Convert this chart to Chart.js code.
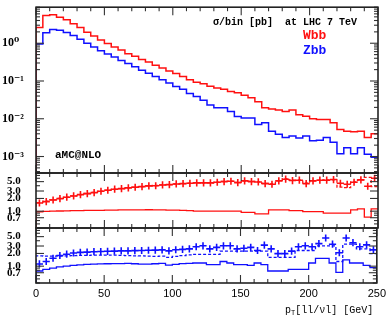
<!DOCTYPE html>
<html><head><meta charset="utf-8">
<script src="https://cdn.jsdelivr.net/npm/chart.js@4/dist/chart.umd.min.js"></script>
<style>
html,body{margin:0;padding:0;background:#fff;}
#wrap{position:relative;width:390px;height:319px;background:#fff;overflow:hidden;}
#wrap canvas{position:absolute;left:0;top:0;}
</style></head><body>
<div id="wrap">
<canvas id="c1" width="390" height="319"></canvas>
<canvas id="c2" width="390" height="319"></canvas>
<canvas id="c3" width="390" height="319"></canvas>
</div>
<script>
// ---- data ----
const binEdges = [0,5,10,15,20,25,30,35,40,45,50,55,60,65,70,75,80,85,90,95,100,105,110,115,120,125,130,135,140,145,150,155,160,165,170,175,180,185,190,195,200,205,210,215,220,225,230,235,240,245,250];
const wbbXsec = [2.6,5.4,5.7,4.9,4.2,3.3,2.6,1.96,1.55,1.22,0.98,0.80,0.66,0.53,0.45,0.37,0.32,0.26,0.22,0.185,0.158,0.132,0.108,0.092,0.084,0.073,0.065,0.060,0.053,0.049,0.042,0.036,0.028,0.0196,0.018,0.0171,0.0155,0.017,0.0128,0.0116,0.0100,0.0095,0.0095,0.0078,0.0052,0.0047,0.0045,0.0047,0.0032,0.0040];
const zbbXsec = [0.95,1.89,2.3,2.2,1.92,1.61,1.27,1.0,0.79,0.63,0.52,0.43,0.35,0.29,0.24,0.193,0.161,0.132,0.108,0.088,0.072,0.060,0.047,0.039,0.031,0.023,0.0197,0.0197,0.0155,0.0115,0.0105,0.0105,0.0070,0.0078,0.0047,0.0039,0.0032,0.0035,0.0031,0.0035,0.0026,0.0027,0.0032,0.0024,0.00118,0.0017,0.00118,0.0017,0.00115,0.00096];
const wbbRatioSolid = [0.97,0.99,1.0,1.01,1.02,1.03,1.03,1.04,1.05,1.05,1.06,1.06,1.07,1.07,1.07,1.07,1.08,1.07,1.07,1.06,1.06,1.05,1.03,1.0,1.0,1.0,1.0,1.0,1.0,1.0,0.94,0.94,0.86,0.86,1.07,1.07,1.07,1.03,1.03,0.98,0.98,0.98,0.9,0.9,0.9,0.9,1.07,1.13,0.72,1.13];
const wbbRatioDashed = [1.6,1.72,1.86,2.0,2.15,2.3,2.47,2.62,2.77,2.97,3.14,3.3,3.42,3.56,3.7,3.82,3.95,4.05,4.18,4.27,4.4,4.5,4.6,4.68,4.7,4.7,4.85,5.05,5.1,4.8,5.2,5.05,4.95,4.55,4.4,5.3,5.9,5.4,5.4,4.6,5.2,5.4,5.5,5.5,3.7,3.6,4.9,5.5,6.3,3.8];
const wbbRatioCross = [1.56,1.68,1.84,1.98,2.14,2.29,2.46,2.6,2.75,2.96,3.13,3.31,3.41,3.55,3.68,3.8,3.96,4.0,4.17,4.25,4.41,4.49,4.57,4.66,4.66,4.66,4.83,5.0,5.1,4.74,5.2,5.0,4.92,4.49,4.33,5.2,5.7,5.3,5.4,4.49,5.2,5.4,5.4,5.6,4.57,4.33,4.83,5.5,3.89,6.0];
const zbbRatioSolid = [0.77,0.84,0.9,0.96,1.0,1.04,1.07,1.1,1.12,1.13,1.14,1.15,1.15,1.16,1.14,1.12,1.12,1.14,1.16,1.06,1.1,1.15,1.17,1.19,1.19,1.09,1.09,1.29,1.19,1.09,1.09,1.04,1.19,1.09,0.77,0.77,0.77,0.84,0.84,0.84,1.19,1.53,1.53,1.19,0.71,1.41,1.19,1.19,1.04,0.92];
const zbbRatioDashed = [1.75,1.72,1.72,1.74,1.76,1.78,1.8,1.8,1.82,1.82,1.83,1.82,1.8,1.78,1.76,1.75,1.72,1.7,1.72,1.62,1.7,1.78,1.85,1.91,1.91,1.91,1.91,2.27,2.27,2.27,2.27,2.27,2.27,2.27,1.61,1.61,1.61,1.61,2.35,2.35,2.35,3.03,3.03,3.03,1.29,3.31,3.31,2.56,2.56,1.98];
const zbbRatioCross = [1.13,1.29,1.54,1.79,1.92,2.05,2.12,2.15,2.2,2.22,2.25,2.27,2.3,2.3,2.33,2.35,2.38,2.4,2.43,2.3,2.45,2.5,2.56,2.88,3.03,2.56,2.78,3.03,3.03,2.56,2.65,2.78,2.35,3.14,2.56,1.98,1.98,2.27,2.88,3.03,2.88,3.42,4.64,3.31,2.08,4.64,3.59,2.88,3.19,2.43];
const mainTickValues = [1,0.1,0.01,0.001];
const mainTickLabels = ['10\u2070','10\u207B\u00B9','10\u207B\u00B2','10\u207B\u00B3'];
const ratioTickValues = [5,3,2,1,0.7];
const ratioTickLabels = ['5.0','3.0','2.0','1.0','0.7'];
const xTickValues = [0,50,100,150,200,250];
const seriesNames = ['Wbb','Zbb'];

// ---- helpers ----
const RED = '#ff1010', BLUE = '#1010ff';
function histPoints(vals){
  const pts = [{x: binEdges[0], y: 1e-9}];
  vals.forEach((v,i)=>pts.push({x: binEdges[i], y: v}));
  pts.push({x: binEdges[vals.length], y: vals[vals.length-1]});
  return pts;
}
function centerPoints(vals){
  return vals.map((v,i)=>({x:(binEdges[i]+binEdges[i+1])/2, y:v}));
}
function histDS(vals,color,dash,w){
  return {type:'line', data:histPoints(vals), stepped:true, borderColor:color, borderWidth:w||1.3,
    borderDash:dash||[], pointRadius:0, fill:false, tension:0};
}
function crossDS(vals,color){
  return {type:'line', data:centerPoints(vals), showLine:false, pointStyle:'cross', pointRadius:3.6,
    pointBorderColor:color, pointBorderWidth:1.6, borderColor:color};
}
function framePlugin(majorVals){
  return {id:'frame', afterDatasetsDraw(chart){
    const {ctx, chartArea:a, scales:{x:xs, y:ys}} = chart;
    ctx.save();
    ctx.strokeStyle = '#333'; ctx.lineWidth = 1.1;
    const ln=(x1,y1,x2,y2)=>{ctx.beginPath();ctx.moveTo(x1,y1);ctx.lineTo(x2,y2);ctx.stroke();};
    for (let v = xs.min; v <= xs.max; v += 10){
      const px = xs.getPixelForValue(v); const L = (v % 50 === 0) ? 8 : 4;
      ln(px,a.top,px,a.top+L); ln(px,a.bottom,px,a.bottom-L);
    }
    const e0 = Math.floor(Math.log10(ys.min)), e1 = Math.ceil(Math.log10(ys.max));
    for (let e = e0; e <= e1; e++){
      for (let m = 1; m <= 9; m++){
        const v = m*Math.pow(10,e);
        if (v < ys.min*0.999 || v > ys.max*1.001) continue;
        const major = majorVals.some(t=>Math.abs(t-v)/v < 1e-6);
        const L = major ? 8 : 4;
        const py = ys.getPixelForValue(v);
        ln(a.left,py,a.left+L,py); ln(a.right,py,a.right-L,py);
      }
    }
    ctx.lineWidth = 1.6; ctx.strokeStyle = '#222';
    ctx.strokeRect(a.left, a.top, a.right-a.left, a.bottom-a.top);
    ctx.restore();
  }};
}
const textPlugin1 = {id:'txt1', afterDraw(chart){
  const ctx = chart.ctx; ctx.save(); ctx.textBaseline='middle';
  ctx.fillStyle='#000'; ctx.font='bold 10px "Liberation Mono", monospace';
  ctx.fillText('\u03C3/bin [pb]  at LHC 7 TeV', 213, 22);
  ctx.font='bold 13px "Liberation Mono", monospace';
  ctx.fillStyle=RED; ctx.fillText(seriesNames[0], 303, 36);
  ctx.fillStyle=BLUE; ctx.fillText(seriesNames[1], 303, 51);
  ctx.fillStyle='#000'; ctx.font='bold 11px "Liberation Mono", monospace';
  ctx.fillText('aMC@NLO', 55, 155);
  ctx.restore();
}};
const textPlugin3 = {id:'txt3', afterDraw(chart){
  const ctx = chart.ctx; ctx.save(); ctx.textBaseline='alphabetic'; ctx.fillStyle='#000';
  let x = 285; const y = 313;
  ctx.font='10px "Liberation Mono", monospace';
  ctx.fillText('p', x, y); x += ctx.measureText('p').width;
  ctx.font='7px "Liberation Mono", monospace';
  ctx.fillText('T', x, y+2); x += ctx.measureText('T').width;
  ctx.font='10px "Liberation Mono", monospace';
  ctx.fillText('[ll/\u03BDl] [GeV]', x, y);
  ctx.restore();
}};

function makeChart(id, datasets, yOpts, pad, yWidth, showX, plugins, majorVals){
  const yScale = Object.assign({
    type:'logarithmic', position:'left',
    grid:{display:false, drawTicks:false}, border:{display:false},
    afterFit(s){ s.width = yWidth; }
  }, yOpts);
  const xScale = {type:'linear', min:0, max:250, display:showX,
     grid:{display:false, drawTicks:false}, border:{display:false},
     afterBuildTicks(s){ s.ticks = xTickValues.map(v=>({value:v})); },
     ticks:{autoSkip:false, maxRotation:0, padding:4, color:'#000',
       font:{family:'"Liberation Sans", sans-serif', size:11}}};
  if (showX) xScale.afterFit = (s)=>{ s.height = 18; };
  new Chart(document.getElementById(id), {
    data:{datasets},
    options:{
      responsive:false, animation:false, events:[],
      layout:{padding:pad},
      plugins:{legend:{display:false}, tooltip:{enabled:false}},
      scales:{ x:xScale, y:yScale }
    },
    plugins:[framePlugin(majorVals)].concat(plugins)
  });
}

const tickFontNum = {family:'"Liberation Serif", serif', size:11, weight:'bold'};

makeChart('c1', [histDS(wbbXsec,RED,null,1.5), histDS(zbbXsec,BLUE,null,1.5)],
  {min:3.66e-4, max:9.0,
   afterBuildTicks(s){ s.ticks = mainTickValues.map(v=>({value:v})); },
   ticks:{autoSkip:false, crossAlign:'far', padding:0, color:'#000',
     font:{family:'"Liberation Serif", "DejaVu Serif", serif', size:12, weight:'bold'},
     callback:(v)=>mainTickLabels[mainTickValues.indexOf(v)] ?? ''}},
  {top:3, bottom:319-173, left:2, right:12}, 34, false, [textPlugin1], mainTickValues);

const ratioY = {min:0.4, max:8,
   afterBuildTicks(s){ s.ticks = ratioTickValues.map(v=>({value:v})); },
   ticks:{autoSkip:false, crossAlign:'far', padding:0, color:'#000', font:tickFontNum,
     callback:(v)=>ratioTickLabels[ratioTickValues.indexOf(v)] ?? ''}};

makeChart('c2', [histDS(wbbRatioSolid,RED), histDS(wbbRatioDashed,RED,[3,2]), crossDS(wbbRatioCross,RED)],
  ratioY, {top:173, bottom:319-228, left:7, right:12}, 29, false, [], ratioTickValues);

makeChart('c3', [histDS(zbbRatioSolid,BLUE), histDS(zbbRatioDashed,BLUE,[3,2]), crossDS(zbbRatioCross,BLUE)],
  ratioY, {top:228, bottom:319-283-18, left:7, right:12}, 29, true, [textPlugin3], ratioTickValues);
</script>
</body></html>
